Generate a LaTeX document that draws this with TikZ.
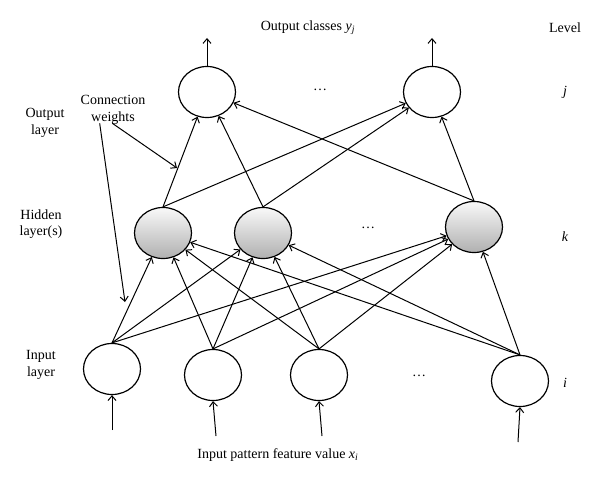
\documentclass[tikz,border=0pt]{standalone}
\usepackage{fontspec}
\setmainfont{Liberation Serif}
\usetikzlibrary{shapes.geometric,arrows.meta}

\tikzset{every picture/.style={line width=0.75pt}}
\tikzset{
  unit/.style={draw, ellipse, line width=0.9pt, inner sep=0pt, minimum width=42.75pt, minimum height=38.25pt},
  hidunit/.style={unit, top color=gray!5, bottom color=gray!62},
  link/.style={-{Straight Barb[length=3.5pt,width=6pt]}},
  lbl/.style={inner sep=0.75pt, align=center, font=\fontsize{10.5}{12.5}\selectfont}
}

\begin{document}
\begin{tikzpicture}[x=0.75pt,y=0.75pt,yscale=-1,xscale=1]
\useasboundingbox (0,0) rectangle (600,485);

%Shape: Ellipse (output units)
\node [unit] (o1) at (207,92) {};
\node [unit] (o2) at (432,92) {};
%Shape: Ellipse (hidden units)
\node [hidunit] (h1) at (163,233) {};
\node [hidunit] (h2) at (263,233) {};
\node [hidunit] (h3) at (474,227) {};
%Shape: Ellipse (input units)
\node [unit] (i1) at (112,369) {};
\node [unit] (i2) at (213,375) {};
\node [unit] (i3) at (319,375) {};
\node [unit] (i4) at (520,381) {};

%Straight Lines (input to hidden)
\foreach \s in {i1,i2,i3,i4}
  \foreach \t in {h1,h2,h3}
    \draw [link] (\s.north) -- (\t);

%Straight Lines (hidden to output)
\foreach \s in {h1,h2,h3}
  \foreach \t in {o1,o2}
    \draw [link] (\s.north) -- (\t);

%Straight Lines (outputs)
\coordinate (y1) at (207,38);
\coordinate (y2) at (432,38);
\draw [link] (o1.north) -- (y1);
\draw [link] (o2.north) -- (y2);

%Straight Lines (inputs)
\coordinate (x1) at (112,430);
\coordinate (x2) at (216,436);
\coordinate (x3) at (322,436);
\coordinate (x4) at (518,442);
\draw [link] (x1) -- (i1.south);
\draw [link] (x2) -- (i2.south);
\draw [link] (x3) -- (i3.south);
\draw [link] (x4) -- (i4.south);

% Text Node
\node [lbl] (cw) at (113,110) {Connection\\weights};
\coordinate (cwa) at (177,168);
\coordinate (cwb) at (125,302);
\draw [link] ([xshift=-0.5pt,yshift=-2pt]cw.south) -- (cwa);
\draw [link] ([xshift=-10pt,yshift=-2pt]cw.south) -- (cwb);

% Text Node
\node [lbl] (outlay) at (45,123) {Output\\layer};
\node [lbl] (hidlay) at (41,224) {Hidden\\layer(s)};
\node [lbl] (inlay) at (41,365) {Input\\layer};
\node [lbl] (ycls) at (308,28) {Output classes {\itshape y}\textsubscript{\itshape j}};
\node [lbl] (xval) at (278,455) {Input pattern feature value {\itshape x}\textsubscript{\itshape i}};

% Text Node (levels)
\node [lbl] (lev) at (565,28) {Level};
\node [lbl] (levj) at (565,92) {\itshape j};
\node [lbl] (levk) at (565,237) {\itshape k};
\node [lbl] (levi) at (565,383) {\itshape i};

% Text Node (dots)
\node [lbl] (odots) at (320,90) {\dots};
\node [lbl] (hdots) at (368,228) {\dots};
\node [lbl] (idots) at (419,376) {\dots};

\end{tikzpicture}
\end{document}
